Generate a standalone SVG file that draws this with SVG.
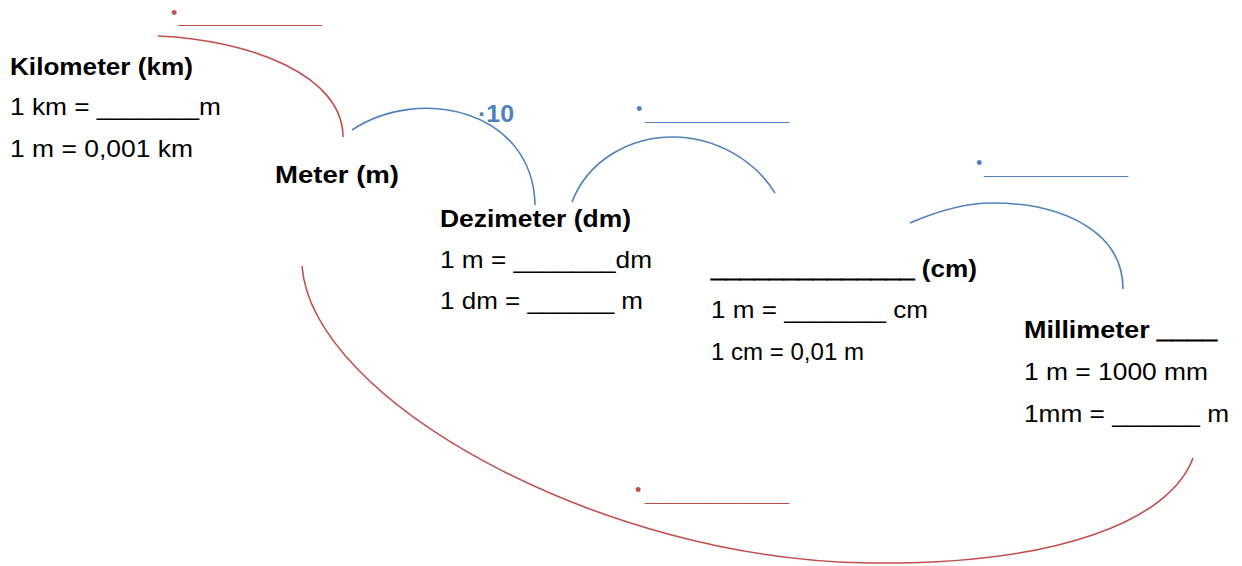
<svg xmlns="http://www.w3.org/2000/svg" width="1242" height="566" viewBox="0 0 1242 566">
<style>
text{font-family:"Liberation Sans",Arial,sans-serif;font-size:24px;fill:#000}
.b{font-weight:bold}
.u{stroke:#000;stroke-width:0.9}
.blue{fill:#4F81BD}
.red{fill:#C0504D}
.bl{font-size:14px}
.dot{font-size:18px}
.arc{fill:none;stroke-width:1.6}
.ra{stroke:#C0504D}
.ba{stroke:#4F81BD}
</style>
<rect width="1242" height="566" fill="#fff"/>
<g id="connectors">
<path class="arc ra" d="M158,36 C250,40 343,75 343,137"/>
<path class="arc ba" d="M352,130 C420,85 533,110 535,205"/>
<path class="arc ba" d="M572,202 C588,160 630,137 673,137 C715,137 755,160 775,193"/>
<path class="arc ba" d="M910,223 C940,210 965,203 992,203 C1060,203 1123,230 1123,289"/>
<path class="arc ra" d="M302,266 C312,400 600,560 870,563 C1060,565 1170,520 1193,458"/>
</g>
<g id="blank-km">
<text class="red dot" x="171" y="19">•</text>
<text class="red bl" x="179" y="23" textLength="143" lengthAdjust="spacingAndGlyphs">___________</text>
</g>
<g id="label-10">
<text class="b blue" x="478" y="122" textLength="36" lengthAdjust="spacingAndGlyphs">·10</text>
</g>
<g id="blank-dm">
<text class="blue dot" x="636" y="115">•</text>
<text class="blue bl" x="645" y="120" textLength="144" lengthAdjust="spacingAndGlyphs">___________</text>
</g>
<g id="blank-cm">
<text class="blue dot" x="976" y="169">•</text>
<text class="blue bl" x="984" y="174" textLength="144" lengthAdjust="spacingAndGlyphs">___________</text>
</g>
<g id="blank-mm">
<text class="red dot" x="635" y="496">•</text>
<text class="red bl" x="645" y="501" textLength="144" lengthAdjust="spacingAndGlyphs">___________</text>
</g>
<g id="kilometer">
<text class="b" x="10" y="75" textLength="183" lengthAdjust="spacingAndGlyphs">Kilometer (km)</text>
<text x="10" y="115" textLength="211" lengthAdjust="spacingAndGlyphs">1 km = _______m</text>
<text x="10" y="157" textLength="183" lengthAdjust="spacingAndGlyphs">1 m = 0,001 km</text>
</g>
<g id="meter">
<text class="b" x="275" y="183" textLength="124" lengthAdjust="spacingAndGlyphs">Meter (m)</text>
</g>
<g id="dezimeter">
<text class="b" x="440" y="227" textLength="191" lengthAdjust="spacingAndGlyphs">Dezimeter (dm)</text>
<text x="440" y="268" textLength="212" lengthAdjust="spacingAndGlyphs">1 m = _______dm</text>
<text x="440" y="309" textLength="203" lengthAdjust="spacingAndGlyphs">1 dm = ______ m</text>
</g>
<g id="zentimeter">
<text class="b" x="711" y="277" textLength="266" lengthAdjust="spacingAndGlyphs"><tspan class="u">______________</tspan> (cm)</text>
<text x="711" y="318" textLength="217" lengthAdjust="spacingAndGlyphs">1 m = _______ cm</text>
<text x="711" y="360" textLength="153" lengthAdjust="spacingAndGlyphs">1 cm = 0,01 m</text>
</g>
<g id="millimeter">
<text class="b" x="1024" y="338" textLength="193" lengthAdjust="spacingAndGlyphs">Millimeter <tspan class="u">____</tspan></text>
<text x="1024" y="380" textLength="184" lengthAdjust="spacingAndGlyphs">1 m = 1000 mm</text>
<text x="1024" y="422" textLength="205" lengthAdjust="spacingAndGlyphs">1mm = ______ m</text>
</g>
</svg>
